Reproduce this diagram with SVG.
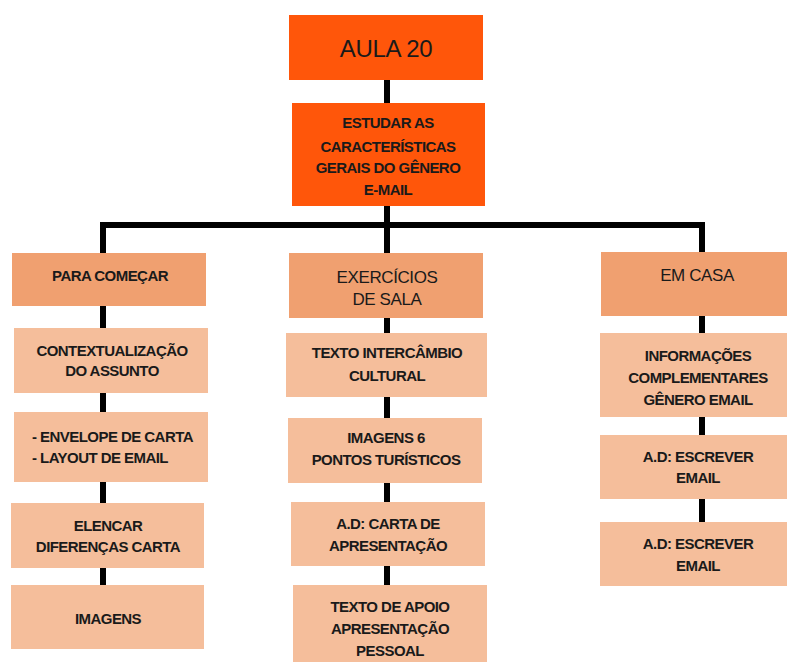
<svg xmlns="http://www.w3.org/2000/svg" width="787" height="662" viewBox="0 0 787 662">
<style>
.top{fill:#FF560A}
.hdr{fill:#F0A070}
.lt{fill:#F5BE9B}
.conn{stroke:#000;stroke-width:6;fill:none}
text{font-family:"Liberation Sans",Arial,sans-serif;fill:#1a1a1a;text-anchor:middle}
.b{font-size:15px;font-weight:bold;letter-spacing:-0.55px}
.r16{font-size:17px;letter-spacing:-0.4px}
</style>
<rect width="787" height="662" fill="#fff"/>
<g id="connectors">
<line class="conn" x1="387" y1="78" x2="387" y2="255"/>
<polyline class="conn" points="103,255 103,225 702,225 702,255"/>
<line class="conn" x1="103" y1="300" x2="103" y2="590"/>
<line class="conn" x1="387" y1="300" x2="387" y2="590"/>
<line class="conn" x1="702" y1="300" x2="702" y2="525"/>
</g>
<g id="aula20"><rect class="top" x="289" y="15" width="194" height="65"/><text x="386" y="57" style="font-size:24px;letter-spacing:-0.3px">AULA 20</text></g>
<g id="estudar"><rect class="top" x="292" y="103" width="193" height="103"/>
<text class="b" x="388" y="128">ESTUDAR AS</text>
<text class="b" x="388" y="152">CARACTERÍSTICAS</text>
<text class="b" x="388" y="173">GERAIS DO GÊNERO</text>
<text class="b" x="388" y="195">E-MAIL</text></g>
<g id="para-comecar"><rect class="hdr" x="12" y="253" width="194" height="53"/><text class="b" x="110" y="281">PARA COMEÇAR</text></g>
<g id="contextualizacao"><rect class="lt" x="14" y="328" width="194" height="65"/><text class="b" x="112" y="356">CONTEXTUALIZAÇÃO</text><text class="b" x="112" y="376">DO ASSUNTO</text></g>
<g id="envelope"><rect class="lt" x="14" y="412" width="194" height="70"/><text class="b" x="32" y="442" style="text-anchor:start">- ENVELOPE DE CARTA</text><text class="b" x="32" y="463" style="text-anchor:start">- LAYOUT DE EMAIL</text></g>
<g id="elencar"><rect class="lt" x="11" y="503" width="193" height="65"/><text class="b" x="108" y="531">ELENCAR</text><text class="b" x="108" y="552">DIFERENÇAS CARTA</text></g>
<g id="imagens"><rect class="lt" x="11" y="585" width="193" height="64"/><text class="b" x="108" y="624">IMAGENS</text></g>
<g id="exercicios"><rect class="hdr" x="289" y="253" width="194" height="65"/><text class="r16" x="387" y="283">EXERCÍCIOS</text><text class="r16" x="387" y="305">DE SALA</text></g>
<g id="texto-intercambio"><rect class="lt" x="286" y="333" width="201" height="64"/><text class="b" x="387" y="358">TEXTO INTERCÂMBIO</text><text class="b" x="387" y="381">CULTURAL</text></g>
<g id="imagens6"><rect class="lt" x="288" y="418" width="194" height="65"/><text class="b" x="386" y="443">IMAGENS 6</text><text class="b" x="386" y="465">PONTOS TURÍSTICOS</text></g>
<g id="carta-apresentacao"><rect class="lt" x="291" y="502" width="194" height="64"/><text class="b" x="388" y="529">A.D: CARTA DE</text><text class="b" x="388" y="551">APRESENTAÇÃO</text></g>
<g id="texto-apoio"><rect class="lt" x="293" y="585" width="194" height="80"/><text class="b" x="390" y="612">TEXTO DE APOIO</text><text class="b" x="390" y="634">APRESENTAÇÃO</text><text class="b" x="390" y="656">PESSOAL</text></g>
<g id="em-casa"><rect class="hdr" x="601" y="252" width="194" height="64"/><text class="r16" x="697" y="281">EM CASA</text></g>
<g id="informacoes"><rect class="lt" x="600" y="333" width="195" height="84"/><text class="b" x="698" y="361">INFORMAÇÕES</text><text class="b" x="698" y="383">COMPLEMENTARES</text><text class="b" x="698" y="405">GÊNERO EMAIL</text></g>
<g id="escrever1"><rect class="lt" x="600" y="435" width="195" height="64"/><text class="b" x="698" y="462">A.D: ESCREVER</text><text class="b" x="698" y="483">EMAIL</text></g>
<g id="escrever2"><rect class="lt" x="600" y="522" width="195" height="64"/><text class="b" x="698" y="549">A.D: ESCREVER</text><text class="b" x="698" y="571">EMAIL</text></g>
</svg>
